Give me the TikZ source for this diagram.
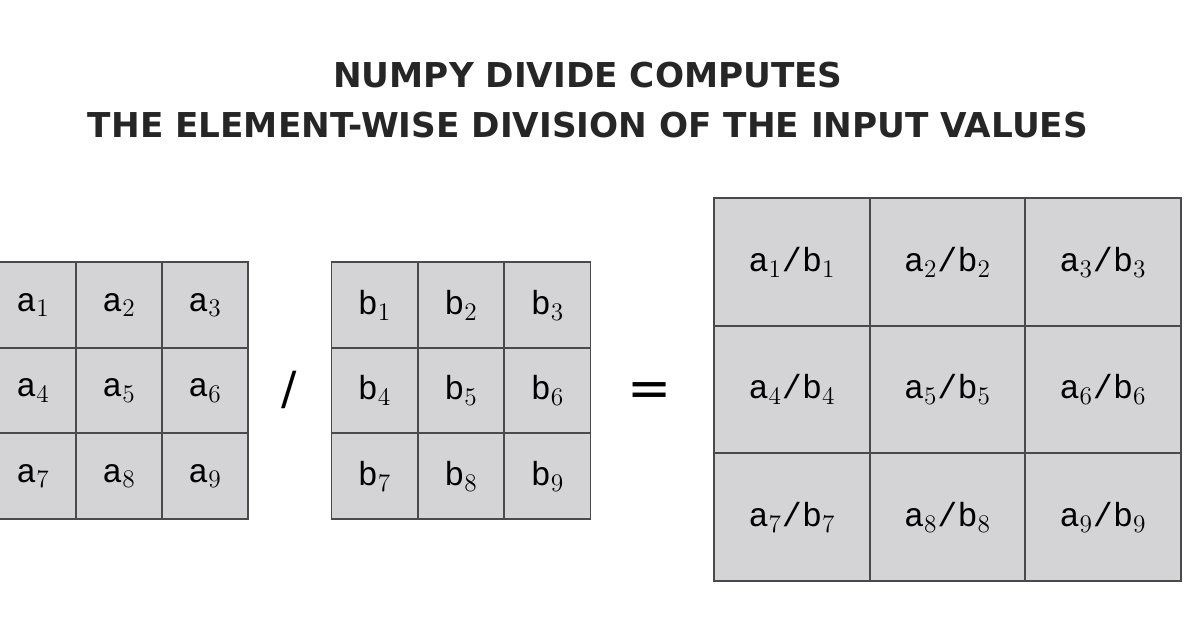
\documentclass[tikz,border=0pt]{standalone}
\usepackage{fontspec}
\setmainfont{DejaVu Sans}
\newfontfamily\cellfont{Liberation Mono}
\usetikzlibrary{positioning}
\definecolor{cellgray}{HTML}{D4D4D6}
\definecolor{linegray}{HTML}{4A4A4A}
\tikzset{
  cell/.style = {draw = linegray, line width = 1pt, fill = cellgray, font = \cellfont\fontsize{19}{22}\selectfont, inner sep = 0pt},
  small/.style = {cell, minimum width = 1.72cm, minimum height = 1.71cm},
  big/.style = {cell, minimum width = 3.11cm, minimum height = 2.55cm}
}

\begin{document}
\begin{tikzpicture}[x = 0.02cm, y = -0.02cm]
	\useasboundingbox (0,0) rectangle (1197,628);

	\node (title) at (588,100) [align = center, font = \bfseries\fontsize{19.5}{28}\selectfont, text = black!85] {NUMPY DIVIDE COMPUTES \\ THE ELEMENT-WISE DIVISION OF THE INPUT VALUES};

	% left and middle grids
	\foreach \r in {1,2,3}
	\foreach \c in {1,2,3} {
		\pgfmathtruncatemacro{\k}{3*(\r-1)+\c}
		\node (A\k) at ({33+86*(\c-1)},{305+85.5*(\r-1)}) [small] {a$_{\k}$};
		\node (B\k) at ({374.5+86.5*(\c-1)},{305+85.5*(\r-1)}) [small] {b$_{\k}$};
		\node (C\k) at ({792+155.5*(\c-1)},{262+127.5*(\r-1)}) [big] {a$_{\k}$/b$_{\k}$};
	}

	\node (div) at (289,390) [font = \fontsize{26}{30}\selectfont] {/};
	\node (eq)  at (650,395) [font = \fontsize{30}{30}\selectfont] {=};
\end{tikzpicture}
\end{document}
